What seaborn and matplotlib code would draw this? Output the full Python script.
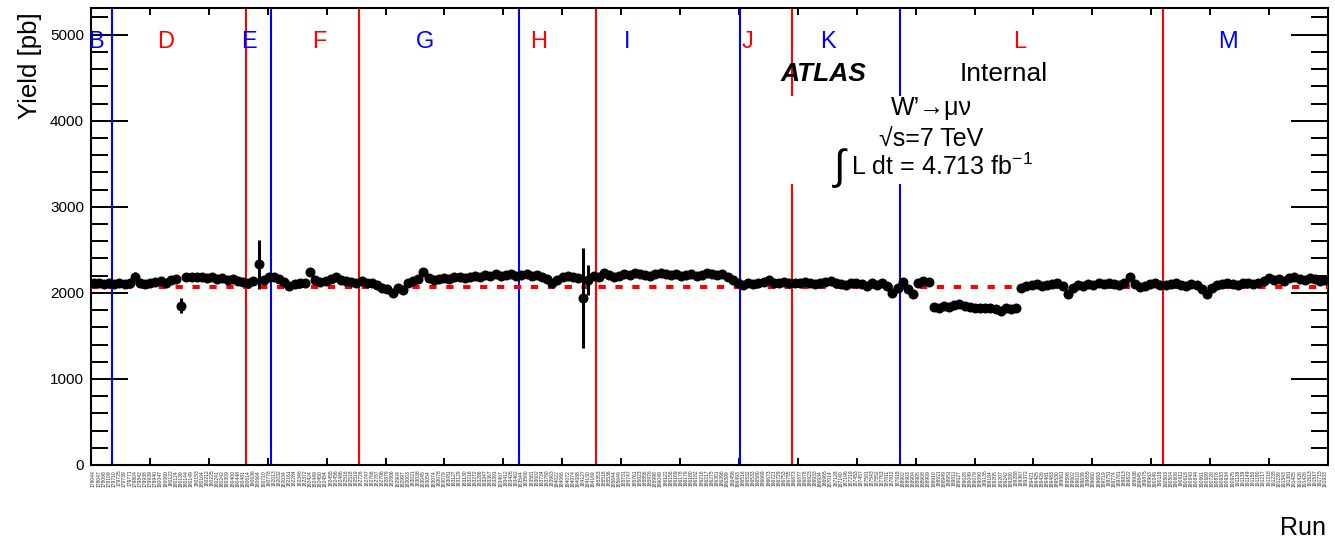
import numpy as np
import pandas as pd
import matplotlib
matplotlib.use("Agg")
import matplotlib.pyplot as plt
import seaborn as sns
from matplotlib.patches import Rectangle

# ---------------------------------------------------------------- data
periods = ["B", "D", "E", "F", "G", "H", "I", "J", "K", "L", "M"]
period_colors = ["blue", "red", "blue", "red", "blue", "red",
                 "blue", "red", "blue", "red", "blue"]

runs_B = [178044, 178047, 178098, 178109]
runs_D = [179710, 179725, 179739, 179771, 179804, 179842, 179938, 179939, 179940,
          180047, 180060, 180122, 180124, 180139, 180144, 180149, 180153, 180164,
          180212, 180225, 180241, 180242, 180309, 180400, 180448, 180481]
runs_E = [180614, 180636, 180664, 180710, 180776]
runs_F = [182013, 182032, 182034, 182161, 182284, 182346, 182372, 182424, 182449,
          182450, 182454, 182455, 182456, 182486, 182516, 182518, 182519]
runs_G = [182726, 182747, 182766, 182787, 182796, 182879, 182886, 182904, 182997,
          183003, 183021, 183038, 183045, 183054, 183074, 183078, 183079, 183081,
          183127, 183129, 183130, 183216, 183272, 183286, 183347, 183367, 183391,
          183407, 183412, 183426, 183462]
runs_H = [183544, 183580, 183581, 183602, 183734, 183780, 183963, 184022, 184066,
          184072, 184074, 184088, 184127, 184130, 184169]
runs_I = [185353, 185518, 185536, 185644, 185649, 185731, 185747, 185761, 185823,
          185856, 185976, 185998, 186049, 186122, 186156, 186169, 186178, 186179,
          186180, 186182, 186216, 186217, 186275, 186361, 186396, 186399, 186456,
          186493]
runs_J = [186516, 186532, 186533, 186580, 186669, 186673, 186721, 186729, 186753,
          186755]
runs_K = [186873, 186877, 186878, 186923, 186933, 186934, 186965, 187014, 187128,
          187140, 187196, 187219, 187453, 187457, 187501, 187543, 187552, 187763,
          187811, 187812, 187815]
runs_L = [188902, 188903, 188904, 188905, 188908, 188909, 188910, 188921, 188949,
          188951, 189011, 189027, 189028, 189049, 189079, 189090, 189135, 189184,
          189205, 189207, 189242, 189280, 189288, 189367, 189372, 189421, 189425,
          189426, 189481, 189483, 189530, 189561, 189598, 189602, 189610, 189639,
          189655, 189660, 189693, 189719, 189751, 189774, 189781, 189813, 189822,
          189836, 189845, 189875, 189963, 190046, 190116]
runs_M = [190503, 190504, 190608, 190611, 190618, 190643, 190644, 190661, 190689,
          190728, 190878, 190933, 190934, 190975, 191138, 191139, 191149, 191150,
          191190, 191217, 191218, 191235, 191239, 191343, 191381, 191425, 191426,
          191428, 191513, 191517, 191715, 191933]

# yield per run [pb]
yield_B = [2120, 2110, 2100, 2110]
yield_D = [2100, 2110, 2100, 2120, 2190, 2110, 2100, 2120, 2130, 2140, 2120, 2150,
           2160, 1850, 2180, 2190, 2180, 2190, 2170, 2180, 2160, 2170, 2150, 2160,
           2140, 2130]
yield_E = [2110, 2140, 2330, 2150, 2180]
yield_F = [2180, 2160, 2130, 2080, 2100, 2120, 2110, 2240, 2150, 2130, 2140, 2160,
           2180, 2150, 2140, 2130, 2120]
yield_G = [2140, 2120, 2110, 2090, 2060, 2040, 2000, 2060, 2030, 2110, 2140, 2160,
           2240, 2170, 2150, 2160, 2170, 2160, 2180, 2180, 2170, 2190, 2200, 2190,
           2210, 2200, 2220, 2200, 2210, 2220, 2200]
yield_H = [2210, 2220, 2200, 2210, 2190, 2160, 2120, 2150, 2180, 2200, 2190, 2170,
           1940, 2150, 2200]
yield_I = [2190, 2230, 2210, 2180, 2200, 2220, 2210, 2230, 2220, 2210, 2200, 2220,
           2230, 2220, 2210, 2220, 2200, 2210, 2220, 2200, 2210, 2230, 2220, 2210,
           2220, 2190, 2150, 2110]
yield_J = [2090, 2110, 2100, 2120, 2130, 2150, 2120, 2110, 2130, 2120]
yield_K = [2120, 2110, 2130, 2120, 2100, 2110, 2130, 2140, 2120, 2100, 2090, 2110,
           2120, 2100, 2080, 2110, 2090, 2110, 2080, 2000, 2060]
yield_L = [2130, 2040, 1990, 2110, 2140, 2130, 1840, 1830, 1850, 1840, 1860, 1870,
           1850, 1840, 1830, 1820, 1830, 1820, 1810, 1790, 1830, 1810, 1820, 2060,
           2080, 2090, 2100, 2080, 2090, 2100, 2110, 2080, 1990, 2060, 2090, 2080,
           2100, 2090, 2110, 2100, 2120, 2100, 2090, 2110, 2180, 2100, 2070, 2080,
           2100, 2110, 2090]
yield_M = [2090, 2100, 2110, 2090, 2080, 2100, 2090, 2050, 1990, 2060, 2090, 2100,
           2110, 2100, 2090, 2110, 2120, 2100, 2110, 2140, 2170, 2150, 2160, 2140,
           2170, 2180, 2160, 2150, 2170, 2160, 2140, 2150]

# statistical uncertainty per run [pb]
err_B = [28, 31, 27, 30]
err_D = [29, 27, 30, 28, 55, 31, 26, 29, 30, 28, 27, 31, 29, 85, 30, 28, 27, 29,
         31, 30, 28, 29, 27, 30, 28, 29]
err_E = [30, 29, 290, 31, 28]
err_F = [29, 30, 28, 31, 27, 30, 29, 40, 28, 30, 29, 31, 28, 27, 30, 29, 28]
err_G = [28, 29, 30, 27, 31, 29, 35, 28, 30, 29, 27, 30, 28, 29, 31, 30, 28, 27,
         29, 30, 28, 29, 31, 27, 30, 28, 29, 30, 27, 29, 28]
err_H = [29, 30, 28, 31, 27, 29, 30, 28, 29, 31, 30, 28, 580, 175, 29]
err_I = [30, 28, 29, 31, 27, 30, 29, 28, 30, 29, 31, 28, 27, 30, 29, 28, 30, 31,
         29, 28, 27, 30, 29, 31, 28, 30, 29, 28]
err_J = [29, 31, 28, 30, 27, 29, 30, 28, 31, 29]
err_K = [30, 28, 29, 31, 27, 30, 29, 28, 30, 31, 29, 28, 27, 30, 29, 31, 28, 30,
         29, 35, 30]
err_L = [30, 29, 32, 28, 30, 29, 27, 28, 26, 27, 29, 28, 27, 26, 28, 27, 26, 28,
         27, 26, 28, 27, 26, 29, 30, 28, 31, 29, 30, 28, 29, 30, 33, 29, 28, 30,
         29, 31, 28, 30, 29, 28, 30, 29, 31, 28, 30, 29, 28, 30, 29]
err_M = [29, 30, 28, 31, 29, 30, 28, 29, 33, 30, 28, 29, 31, 30, 28, 29, 30, 31,
         28, 29, 30, 28, 29, 31, 30, 28, 29, 30, 31, 28, 29, 30]

average_yield = 2070

# where each period letter sits along the run axis (bin index)
label_pos = [0.5, 13.9, 30.2, 43.7, 64.3, 86.4, 103.5, 126.8, 142.5, 179.7, 220.1]

all_runs = [runs_B, runs_D, runs_E, runs_F, runs_G, runs_H, runs_I, runs_J,
            runs_K, runs_L, runs_M]
all_yield = [yield_B, yield_D, yield_E, yield_F, yield_G, yield_H, yield_I,
             yield_J, yield_K, yield_L, yield_M]
all_err = [err_B, err_D, err_E, err_F, err_G, err_H, err_I, err_J, err_K,
           err_L, err_M]

frames = []
for p, r, y, e in zip(periods, all_runs, all_yield, all_err):
    frames.append(pd.DataFrame({"run": r, "yield": y, "err": e, "period": p}))
df = pd.concat(frames, ignore_index=True)
df["idx"] = np.arange(len(df))
n_runs = len(df)

# ---------------------------------------------------------------- style
sns.set_style("white")
plt.rcParams["font.family"] = ["Liberation Sans", "DejaVu Sans"]
plt.rcParams["mathtext.fontset"] = "custom"
plt.rcParams["mathtext.rm"] = "Liberation Sans"
plt.rcParams["mathtext.it"] = "Liberation Sans:italic"
plt.rcParams["mathtext.bf"] = "Liberation Sans:bold"
for key in ["text.color", "axes.labelcolor", "xtick.color", "ytick.color"]:
    plt.rcParams[key] = "black"

W, H = 1335, 541
fig = plt.figure(figsize=(W / 100, H / 100), dpi=100)
ax = fig.add_axes([91 / W, 1 - 465 / H, 1237 / W, 457 / H])

# average line
ax.axhline(average_yield, color="red", lw=2.9, dashes=(1.8, 2.4), zorder=3)

# period boundaries and letters
ends = np.cumsum([len(r) for r in all_runs])
for end, col in zip(ends[:-1], period_colors[:-1]):
    ax.axvline(end - 0.5, color=col, lw=1.5, zorder=2)
for name, col, xp in zip(periods, period_colors, label_pos):
    ax.text(xp, 4920, name, color=col, ha="center", va="center", fontsize=17,
            zorder=6)

# per-run yields with error bars
ax.errorbar(df["idx"], df["yield"], yerr=df["err"], fmt="none", ecolor="black",
            elinewidth=2.2, capsize=0, zorder=4)
sns.scatterplot(data=df, x="idx", y="yield", color="black", s=52, linewidth=0,
                ax=ax, zorder=5, legend=False)

# axes
ax.set_xlim(-0.5, n_runs - 0.5)
ax.set_ylim(0, 5310)
ax.set_xlabel("")
ax.set_ylabel("")

ax.set_xticks(df["idx"])
ax.set_xticklabels([str(r) for r in df["run"]], rotation=90, fontsize=3.6,
                   color="#333333")
ax.set_xticks(np.linspace(-0.5, n_runs - 0.5, 22), minor=True)
ax.tick_params(axis="x", which="major", length=0, pad=3.5)
ax.tick_params(axis="x", which="minor", length=5, width=1.4, direction="in",
               top=True, bottom=True)

ax.set_yticks(np.arange(0, 5001, 1000))
ax.set_yticks(np.arange(0, 5301, 200), minor=True)
ax.tick_params(axis="y", which="major", length=26.6, width=1.4, direction="in",
               left=True, right=True, labelsize=11, pad=5)
ax.tick_params(axis="y", which="minor", length=12.2, width=1.4, direction="in",
               left=True, right=True)
for s in ax.spines.values():
    s.set_linewidth(1.5)
    s.set_color("black")
    s.set_visible(True)

# white pad behind the process / luminosity label
fig.add_artist(Rectangle((785 / W, 1 - 184 / H), (1070 - 785) / W, (184 - 96) / H,
                         transform=fig.transFigure, facecolor="white",
                         edgecolor="none", zorder=3))

def fx(x):
    return x / W

def fy(y):
    return 1 - y / H

fig.text(fx(781), fy(74), "ATLAS", fontsize=19, fontweight="bold", style="italic",
         ha="left", va="center", zorder=5)
fig.text(fx(960), fy(74), "Internal", fontsize=19, ha="left", va="center", zorder=5)
fig.text(fx(931), fy(108), "W\u2019\u2192\u03bc\u03bd", fontsize=18, ha="center",
         va="center", zorder=5)
fig.text(fx(931), fy(139), "\u221as=7 TeV", fontsize=18, ha="center", va="center",
         zorder=5)
fig.text(fx(840), fy(168), "\u222b", fontsize=30, ha="center", va="center", zorder=5)
fig.text(fx(851), fy(167), "L dt = 4.713 fb$^{-1}$", fontsize=18, ha="left",
         va="center", zorder=5)

fig.text(fx(30), fy(66), "Yield [pb]", fontsize=18.5, rotation=90, ha="center",
         va="center")
fig.text(fx(1303), fy(528), "Run", fontsize=18, ha="center", va="center")

fig.savefig("out.png", dpi=100)
